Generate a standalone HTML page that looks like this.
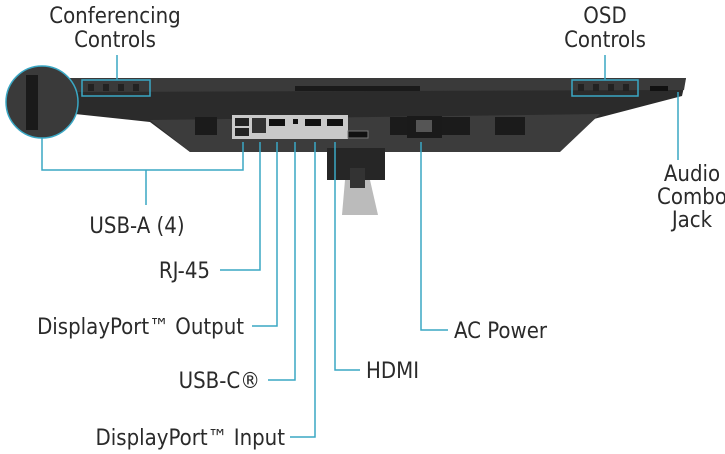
<!DOCTYPE html>
<html><head><meta charset="utf-8"><style>
body{margin:0;background:#fff;width:725px;height:454px;overflow:hidden}
svg{display:block}
text{font-family:"DejaVu Sans Condensed","Liberation Sans Narrow","Liberation Sans",sans-serif;font-size:22px;fill:#2a2a2a}
</style></head><body>
<svg width="725" height="454" viewBox="0 0 725 454">
<polygon points="70,78 686,78 682,96 590,120 555,152 190,152 150,122 75,114" fill="#2b2b2b"/>
<polygon points="70,78 686,78 684,90 72,92" fill="#3a3a3a"/>
<rect x="295" y="86" width="125" height="5" fill="#1a1a1a"/>
<polygon points="150,120 600,114 560,152 190,152" fill="#3c3c3c"/>
<rect x="195" y="117" width="22" height="18" fill="#1b1b1b"/>
<rect x="390" y="117" width="22" height="18" fill="#1b1b1b"/>
<rect x="440" y="117" width="30" height="18" fill="#1b1b1b"/>
<rect x="495" y="117" width="30" height="18" fill="#1b1b1b"/>
<rect x="232" y="115" width="116" height="24" fill="#c9c9c9"/>
<rect x="235" y="118" width="14" height="8" fill="#222"/><rect x="235" y="128" width="14" height="8" fill="#222"/>
<rect x="252" y="118" width="14" height="15" fill="#333"/>
<rect x="269" y="119" width="16" height="7" fill="#111"/>
<rect x="293" y="119" width="5" height="5" fill="#111"/>
<rect x="305" y="119" width="16" height="7" fill="#111"/>
<rect x="327" y="119" width="16" height="7" fill="#111"/>
<rect x="348" y="131" width="20" height="7" fill="#111" stroke="#777"/>
<rect x="407" y="116" width="35" height="22" fill="#1a1a1a"/>
<rect x="416" y="120" width="16" height="12" fill="#555"/>
<rect x="327" y="148" width="58" height="32" fill="#262626"/>
<polygon points="345,180 370,180 378,215 342,215" fill="#bbb"/>
<rect x="350" y="168" width="15" height="20" fill="#333"/>
<circle cx="42" cy="102" r="36" fill="#3a3a3a" stroke="#3aa7c4" stroke-width="1.5"/>
<rect x="26" y="75" width="12" height="55" fill="#1a1a1a"/>
<g fill="none" stroke="#3aa7c4" stroke-width="1.5">
<rect x="82" y="80" width="68" height="16"/>
<rect x="572" y="80" width="66" height="16"/>
<path d="M117,55V80M605,55V80M678,92V160"/>
<path d="M243,142V170H42V138M146,170V205"/>
<path d="M260,142V270H220"/>
<path d="M277,142V326H252"/>
<path d="M295,142V380H268"/>
<path d="M315,142V437H290"/>
<path d="M335,142V370H360"/>
<path d="M421,142V330H448"/>
</g>
<g fill="#222">
<rect x="88" y="84" width="6" height="7"/><rect x="103" y="84" width="6" height="7"/><rect x="118" y="84" width="6" height="7"/><rect x="133" y="84" width="6" height="7"/>
<rect x="578" y="84" width="6" height="7"/><rect x="593" y="84" width="6" height="7"/><rect x="608" y="84" width="6" height="7"/><rect x="623" y="84" width="6" height="7"/>
<rect x="650" y="86" width="18" height="5" fill="#111"/>
</g>
<text x="115" y="23" text-anchor="middle">Conferencing</text>
<text x="115" y="47" text-anchor="middle">Controls</text>
<text x="605" y="23" text-anchor="middle">OSD</text>
<text x="605" y="47" text-anchor="middle">Controls</text>
<text x="692" y="181" text-anchor="middle">Audio</text>
<text x="692" y="204" text-anchor="middle">Combo</text>
<text x="692" y="227" text-anchor="middle">Jack</text>
<text x="137" y="233" text-anchor="middle">USB-A (4)</text>
<text x="210" y="278" text-anchor="end">RJ-45</text>
<text x="244" y="334" text-anchor="end">DisplayPort™ Output</text>
<text x="260" y="388" text-anchor="end">USB-C®</text>
<text x="285" y="445" text-anchor="end">DisplayPort™ Input</text>
<text x="366" y="378">HDMI</text>
<text x="454" y="338">AC Power</text>
</svg>
</body></html>
